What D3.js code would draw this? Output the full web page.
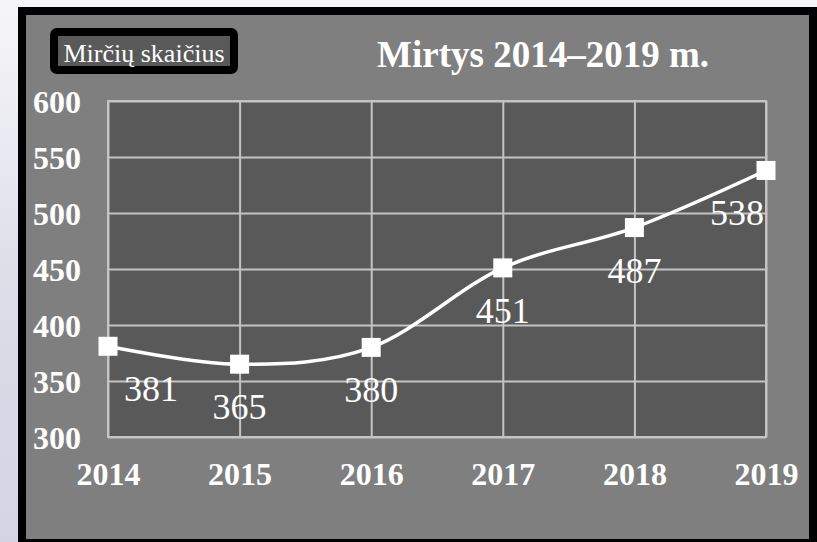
<!DOCTYPE html>
<html>
<head>
<meta charset="utf-8">
<title>Mirtys 2014–2019 m.</title>
<script src="https://cdn.jsdelivr.net/npm/d3@7"></script>
<style>
  body { margin: 0; height: 542px; background: linear-gradient(to bottom, #f6f6f9 0px, #dcdce8 300px, #d4d4e4 542px); }
  svg { display: block; }
  text { font-family: "Liberation Serif", "Times New Roman", serif; fill: #fff; }
</style>
</head>
<body>
<script>
var years = ["2014", "2015", "2016", "2017", "2018", "2019"];
var deaths = [381, 365, 380, 451, 487, 538];
var yTicks = [300, 350, 400, 450, 500, 550, 600];
var legendLabel = "Mirčių skaičius";
var title = "Mirtys 2014–2019 m.";

var w = 817, h = 542;
var pLeft = 108, pRight = 766, pTop = 101, pBottom = 437;

var svg = d3.select("body").append("svg")
    .attr("width", w)
    .attr("height", h);

// chart area with black frame
svg.append("rect")
    .attr("x", 22).attr("y", 11)
    .attr("width", 791).attr("height", 532)
    .attr("fill", "#7f7f7f")
    .attr("stroke", "#000")
    .attr("stroke-width", 8);

var x = d3.scalePoint().domain(years).range([pLeft, pRight]);
var y = d3.scaleLinear().domain([300, 600]).range([pBottom, pTop]);

// plot area
svg.append("rect")
    .attr("x", pLeft).attr("y", pTop)
    .attr("width", pRight - pLeft).attr("height", pBottom - pTop)
    .attr("fill", "#595959");

// grid
svg.append("g")
    .attr("transform", "translate(" + pLeft + ",0)")
    .call(d3.axisLeft(y).tickValues(yTicks).tickSize(-(pRight - pLeft)).tickFormat(""))
    .call(function(g) { g.select(".domain").remove(); })
    .selectAll("line").attr("stroke", "#c4c4c4").attr("stroke-width", 2);

svg.append("g")
    .attr("transform", "translate(0," + pTop + ")")
    .call(d3.axisBottom(x).tickSize(pBottom - pTop).tickFormat(""))
    .call(function(g) { g.select(".domain").remove(); })
    .selectAll("line").attr("stroke", "#c4c4c4").attr("stroke-width", 2);

svg.append("rect")
    .attr("x", pLeft).attr("y", pTop)
    .attr("width", pRight - pLeft).attr("height", pBottom - pTop)
    .attr("fill", "none")
    .attr("stroke", "#c4c4c4")
    .attr("stroke-width", 2);

// y labels
var yAx = svg.append("g")
    .attr("transform", "translate(81,0)")
    .call(d3.axisLeft(y).tickValues(yTicks).tickSize(0).tickPadding(0));
yAx.select(".domain").remove();
yAx.selectAll("text")
    .attr("fill", "#fff")
    .attr("dy", 11)
    .style("font-family", "'Liberation Serif', serif")
    .style("font-size", "32px")
    .style("font-weight", "bold");

// x labels
var xAx = svg.append("g")
    .attr("transform", "translate(0,485)")
    .call(d3.axisBottom(x).tickSize(0).tickPadding(0));
xAx.select(".domain").remove();
xAx.selectAll("text")
    .attr("fill", "#fff")
    .attr("y", 0).attr("dy", 0)
    .style("font-family", "'Liberation Serif', serif")
    .style("font-size", "32px")
    .style("font-weight", "bold");

// line
var line = d3.line()
    .x(function(d, i) { return x(years[i]); })
    .y(function(d) { return y(d); })
    .curve(d3.curveCardinal);

svg.append("path")
    .datum(deaths)
    .attr("d", line)
    .attr("fill", "none")
    .attr("stroke", "#fff")
    .attr("stroke-width", 3.5);

svg.selectAll(".pt")
    .data(deaths)
    .enter().append("rect")
    .attr("class", "pt")
    .attr("x", function(d, i) { return x(years[i]) - 9.5; })
    .attr("y", function(d) { return y(d) - 9.5; })
    .attr("width", 19).attr("height", 19)
    .attr("fill", "#fff");

// data labels below points
svg.selectAll(".lbl")
    .data(deaths)
    .enter().append("text")
    .attr("class", "lbl")
    .attr("x", function(d, i) {
        if (i === 0) return x(years[i]) + 16;
        if (i === deaths.length - 1) return x(years[i]) - 2;
        return x(years[i]);
    })
    .attr("y", function(d) { return y(d) + 55; })
    .attr("text-anchor", function(d, i) {
        if (i === 0) return "start";
        if (i === deaths.length - 1) return "end";
        return "middle";
    })
    .style("font-size", "36px")
    .text(function(d) { return d; });

// title
svg.append("text")
    .attr("x", 543).attr("y", 67)
    .attr("text-anchor", "middle")
    .style("font-size", "37px")
    .style("font-weight", "bold")
    .text(title);

// legend
svg.append("rect")
    .attr("x", 54).attr("y", 32)
    .attr("width", 180).attr("height", 38)
    .attr("rx", 3)
    .attr("fill", "#595959")
    .attr("stroke", "#000")
    .attr("stroke-width", 8);

svg.append("text")
    .attr("x", 144).attr("y", 62)
    .attr("text-anchor", "middle")
    .style("font-size", "26px")
    .text(legendLabel);
</script>
</body>
</html>
